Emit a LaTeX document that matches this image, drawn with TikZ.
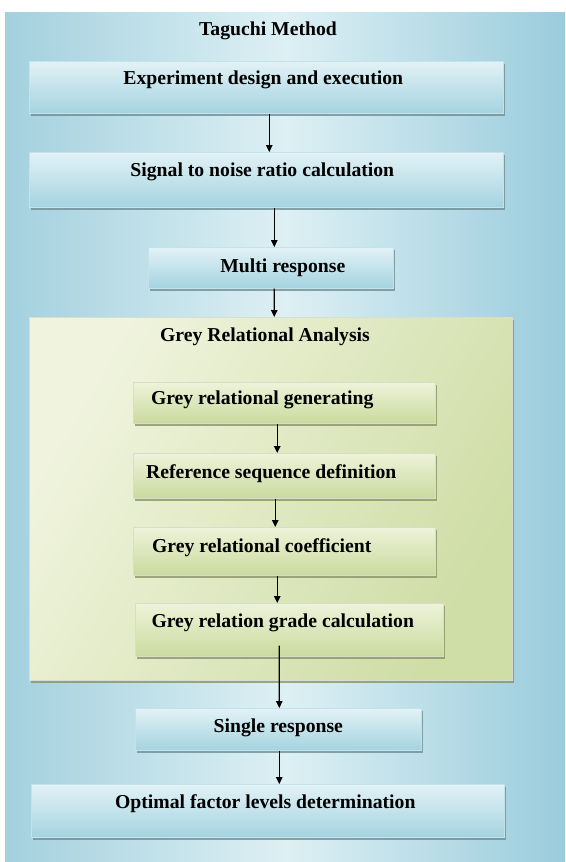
\documentclass[tikz,border=0pt]{standalone}
\usepackage{fontspec}
\setmainfont{Liberation Serif}
\usetikzlibrary{arrows.meta,shadows}
\definecolor{bgA}{HTML}{DDF0F4}
\definecolor{bgB}{HTML}{A3D0DE}
\definecolor{bgC}{HTML}{9ACCDC}
\definecolor{bxTop}{HTML}{E2F2F6}
\definecolor{bxBot}{HTML}{A4D3E0}
\definecolor{bxLine}{HTML}{C4E2EA}
\definecolor{grTop}{HTML}{EEF3DA}
\definecolor{grBot}{HTML}{CADA9E}
\definecolor{gpA}{HTML}{F0F4DE}
\definecolor{gpB}{HTML}{CFDDA6}
\definecolor{shd}{HTML}{6F8E96}
\definecolor{gshd}{HTML}{8A9468}
\begin{document}
\begin{tikzpicture}[x=1pt,y=-1pt,
  txt/.style={font=\fontsize{19.7}{22}\selectfont\bfseries, text=black, inner sep=0pt},
  bluebox/.style={draw=bxLine, line width=0.6pt, top color=bxTop, bottom color=bxBot,
     anchor=north west, inner sep=0pt,
     drop shadow={shadow xshift=1.5pt, shadow yshift=-2.5pt, fill=shd, opacity=0.8}},
  greenbox/.style={draw=grTop!80!gray, line width=0.5pt, top color=grTop, bottom color=grBot,
     anchor=north west, inner sep=0pt,
     drop shadow={shadow xshift=1.5pt, shadow yshift=-2.5pt, fill=gshd, opacity=0.8}},
  arr/.style={-{Triangle[length=7pt,width=6.5pt]}, line width=1.2pt, black}
]
\useasboundingbox (0,0) rectangle (565,862);
% background panel
\shade[left color=bgB, right color=bgC, middle color=bgA] (5,12) rectangle (565,862);

\node[txt] (title) at (268,31) {Taguchi Method};

\node[bluebox, minimum width=474pt, minimum height=52pt,
  label={[txt, xshift=-3pt, yshift=7pt]center:Experiment design and execution}] (e1) at (29,61) {};
\node[bluebox, minimum width=474pt, minimum height=55pt,
  label={[txt, xshift=-4pt, yshift=7.5pt]center:Signal to noise ratio calculation}] (e2) at (29,152) {};
\node[bluebox, minimum width=245pt, minimum height=41pt,
  label={[txt, xshift=12pt, yshift=0pt]center:Multi response}] (e3) at (148,247) {};

% green panel
\node[anchor=north west, minimum width=483pt, minimum height=363pt, inner sep=0pt,
  draw=gpA!80!gray, line width=0.5pt, left color=gpA, right color=gpB, shading angle=60,
  drop shadow={shadow xshift=1.5pt, shadow yshift=-2.5pt, fill=gshd, opacity=0.8}] (gp) at (29,317) {};
\node[txt] (gtitle) at (265,337) {Grey Relational Analysis};

\node[greenbox, minimum width=302pt, minimum height=41pt,
  label={[txt, xshift=-22pt, yshift=2.5pt]center:Grey relational generating}] (g1) at (133,382) {};
\node[greenbox, minimum width=302pt, minimum height=45pt,
  label={[txt, xshift=-13pt, yshift=2.5pt]center:Reference sequence definition}] (g2) at (133,453) {};
\node[greenbox, minimum width=302pt, minimum height=48pt,
  label={[txt, xshift=-22.5pt, yshift=4pt]center:Grey relational coefficient}] (g3) at (133,527) {};
\node[greenbox, minimum width=308pt, minimum height=53pt,
  label={[txt, xshift=-6.5pt, yshift=6.5pt]center:Grey relation grade calculation}] (g4) at (135,603) {};

\node[bluebox, minimum width=286pt, minimum height=42pt,
  label={[txt, xshift=0pt, yshift=1pt]center:Single response}] (sr) at (135,708) {};
\node[bluebox, minimum width=473pt, minimum height=53pt,
  label={[txt, xshift=-2.5pt, yshift=7.5pt]center:Optimal factor levels determination}] (of) at (31,784) {};

% connectors
\draw[arr] ([xshift=3pt]e1.south) -- ([xshift=3pt]e2.north);
\draw[arr] ([xshift=8pt]e2.south) -- ([xshift=3.5pt]e3.north);
\draw[arr] ([xshift=3.5pt]e3.south) -- ([xshift=3.5pt]gp.north);
\draw[arr] ([xshift=-7pt]g1.south) -- ([xshift=-7pt]g2.north);
\draw[arr] ([xshift=-9pt]g2.south) -- ([xshift=-9pt]g3.north);
\draw[arr] ([xshift=-7pt]g3.south) -- ([xshift=-12pt]g4.north);
\draw[arr] ([xshift=-10pt, yshift=11pt]g4.south) -- ([xshift=1pt]sr.north);
\draw[arr] ([xshift=1pt]sr.south) -- ([xshift=11.5pt]of.north);
\end{tikzpicture}
\end{document}
